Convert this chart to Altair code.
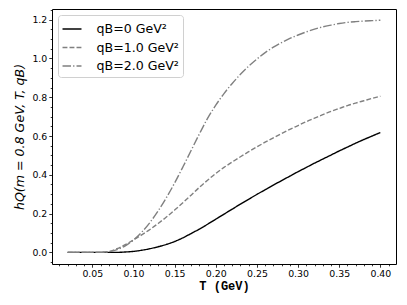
import altair as alt
import pandas as pd

T = [0.02, 0.03, 0.04, 0.05, 0.06, 0.07, 0.08, 0.09, 0.10, 0.11, 0.12, 0.13, 0.14,
     0.15, 0.16, 0.17, 0.18, 0.19, 0.20, 0.21, 0.22, 0.23, 0.24, 0.25, 0.26, 0.27,
     0.28, 0.29, 0.30, 0.31, 0.32, 0.33, 0.34, 0.35, 0.36, 0.37, 0.38, 0.39, 0.40]

h_qb0 = [0.0, 0.0, 0.0, 0.0, 0.0, 0.0, 0.0, 0.002, 0.005, 0.011, 0.019, 0.029, 0.041,
         0.056, 0.075, 0.097, 0.120, 0.145, 0.171, 0.197, 0.223, 0.249, 0.274, 0.299,
         0.323, 0.347, 0.370, 0.393, 0.416, 0.438, 0.460, 0.481, 0.502, 0.523, 0.543,
         0.563, 0.582, 0.600, 0.618]

h_qb1 = [0.0, 0.0, 0.0, 0.0, 0.0, 0.004, 0.019, 0.040, 0.064, 0.090, 0.118, 0.149,
         0.182, 0.218, 0.256, 0.295, 0.335, 0.372, 0.407, 0.438, 0.466, 0.493, 0.519,
         0.544, 0.568, 0.591, 0.613, 0.634, 0.654, 0.674, 0.692, 0.710, 0.727, 0.742,
         0.757, 0.770, 0.782, 0.794, 0.805]

h_qb2 = [0.0, 0.0, 0.0, 0.0, 0.0, 0.003, 0.014, 0.034, 0.064, 0.104, 0.154, 0.214,
         0.282, 0.358, 0.440, 0.525, 0.610, 0.691, 0.759, 0.819, 0.871, 0.918, 0.960,
         0.997, 1.030, 1.058, 1.082, 1.103, 1.121, 1.137, 1.151, 1.163, 1.172, 1.180,
         1.186, 1.190, 1.193, 1.195, 1.197]

labels = ["qB=0 GeV²", "qB=1.0 GeV²", "qB=2.0 GeV²"]
colors = ["#000000", "#808080", "#808080"]
dashes = [[1, 0], [4.9, 2.1], [8.5, 2.1, 1.3, 2.1]]

x_ticks = [round(0.01 * i, 2) for i in range(1, 42)]
y_ticks = [round(-0.05 + 0.05 * i, 2) for i in range(0, 27)]

rows = []
for lab, ys in zip(labels, [h_qb0, h_qb1, h_qb2]):
    for t, v in zip(T, ys):
        rows.append({"T": t, "h": v, "series": lab})
df = pd.DataFrame(rows)

legend = alt.Legend(
    title=None,
    orient="top-left",
    offset=6,
    padding=3.5,
    rowPadding=0.5,
    symbolType="stroke",
    symbolSize=360,
    symbolStrokeWidth=1.4,
    labelFont="DejaVu Sans",
    labelFontSize=12.6,
    labelColor="#000000",
    labelOffset=14,
    fillColor="rgba(255,255,255,0.8)",
    strokeColor="#d0d0d0",
    cornerRadius=3,
)

chart = alt.Chart(df).mark_line(strokeWidth=1.4, clip=True, interpolate="monotone").encode(
    x=alt.X(
        "T:Q",
        scale=alt.Scale(domain=[0.001, 0.419], nice=False, zero=False),
        axis=alt.Axis(
            title="T  (GeV)",
            titleFont="Liberation Mono",
            titleFontWeight="bold",
            titleFontSize=12,
            titleColor="#000000",
            titlePadding=3,
            values=x_ticks,
            labelExpr="round(datum.value*100) % 5 == 0 ? format(datum.value, '.2f') : ''",
            labelFont="DejaVu Sans",
            labelFontSize=9.4,
            labelColor="#000000",
            labelPadding=2,
            labelOverlap=False,
            labelFlush=False,
            tickColor="#000000",
            tickWidth=0.8,
            tickSize={"condition": {"test": "round(datum.value*100) % 5 == 0", "value": 3.2}, "value": 1.8},
            domain=False,
            grid=False,
        ),
    ),
    y=alt.Y(
        "h:Q",
        scale=alt.Scale(domain=[-0.06, 1.255], nice=False, zero=False),
        axis=alt.Axis(
            title="hQ(m = 0.8 GeV, T, qB)",
            titleFont="DejaVu Sans",
            titleFontStyle="italic",
            titleFontWeight="normal",
            titleFontSize=12.6,
            titleColor="#000000",
            titlePadding=5,
            values=y_ticks,
            labelExpr="round(datum.value*100) % 20 == 0 ? format(datum.value, '.1f') : ''",
            labelFont="DejaVu Sans",
            labelFontSize=9.4,
            labelColor="#000000",
            labelPadding=2,
            labelOverlap=False,
            labelFlush=False,
            tickColor="#000000",
            tickWidth=0.8,
            tickSize={"condition": {"test": "round(datum.value*100) % 20 == 0", "value": 3.2}, "value": 1.8},
            domain=False,
            grid=False,
        ),
    ),
    color=alt.Color("series:N", scale=alt.Scale(domain=labels, range=colors), legend=legend),
    strokeDash=alt.StrokeDash("series:N", scale=alt.Scale(domain=labels, range=dashes), legend=legend),
).properties(
    width=344,
    height=255,
    autosize=alt.AutoSizeParams(type="none"),
    padding={"left": 44, "top": 1, "right": 3, "bottom": 33},
).configure_view(
    stroke="#000000",
    strokeWidth=1,
)

chart.save("out.html", embed_options={"renderer": "svg", "actions": False})
